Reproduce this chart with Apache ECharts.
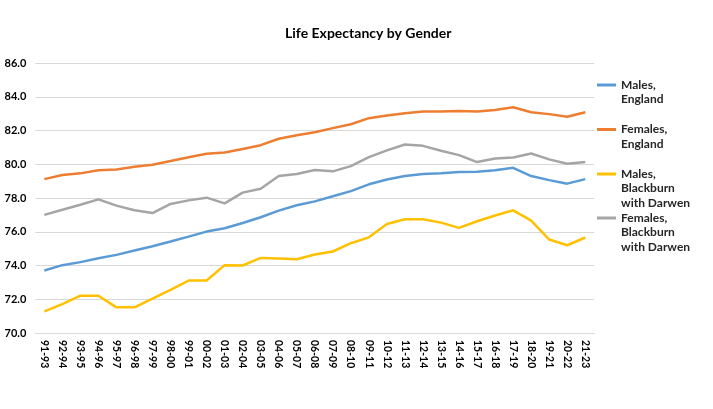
<!DOCTYPE html>
<html>
<head>
<meta charset="utf-8">
<script src="https://cdn.jsdelivr.net/npm/echarts@6/dist/echarts.min.js"></script>
<style>
  html, body { margin: 0; padding: 0; background: #fff; }
  #chart { width: 713px; height: 409px; }
</style>
</head>
<body>
<div id="chart"></div>
<script>
const categories = ['91-93', '92-94', '93-95', '94-96', '95-97', '96-98', '97-99', '98-00', '99-01', '00-02',
  '01-03', '02-04', '03-05', '04-06', '05-07', '06-08', '07-09', '08-10', '09-11', '10-12',
  '11-13', '12-14', '13-15', '14-16', '15-17', '16-18', '17-19', '18-20', '19-21', '20-22', '21-23']

const malesEngland = [73.70, 74.02, 74.20, 74.43, 74.63, 74.89, 75.14, 75.42, 75.71, 76.01,
  76.21, 76.52, 76.86, 77.25, 77.57, 77.80, 78.10, 78.41, 78.81, 79.10,
  79.30, 79.42, 79.46, 79.54, 79.56, 79.64, 79.79, 79.30, 79.06, 78.85, 79.12]
const femalesEngland = [79.12, 79.36, 79.46, 79.64, 79.69, 79.85, 79.97, 80.19, 80.42, 80.62,
  80.70, 80.90, 81.13, 81.51, 81.72, 81.90, 82.14, 82.37, 82.73, 82.89,
  83.02, 83.12, 83.12, 83.16, 83.12, 83.22, 83.38, 83.08, 82.97, 82.81, 83.08]
const malesBlackburn = [71.28, 71.71, 72.21, 72.21, 71.52, 71.52, 72.03, 72.56, 73.11, 73.11,
  74.02, 74.00, 74.45, 74.41, 74.37, 74.65, 74.83, 75.32, 75.67, 76.46,
  76.74, 76.74, 76.54, 76.23, 76.62, 76.96, 77.27, 76.66, 75.54, 75.20, 75.66]
const femalesBlackburn = [77.00, 77.30, 77.60, 77.92, 77.55, 77.27, 77.11, 77.65, 77.86, 78.02,
  77.68, 78.32, 78.55, 79.30, 79.42, 79.66, 79.58, 79.89, 80.42, 80.82,
  81.17, 81.09, 80.80, 80.54, 80.13, 80.34, 80.40, 80.64, 80.29, 80.03, 80.13]

const seriesNames = ['Males,\nEngland', 'Females,\nEngland', 'Males,\nBlackburn\nwith Darwen', 'Females,\nBlackburn\nwith Darwen']
const seriesData = [malesEngland, femalesEngland, malesBlackburn, femalesBlackburn]
const colors = ['#5B9BD5', '#ED7D31', '#FFC000', '#A5A5A5']

const font = 'Lato, "Open Sans", sans-serif'
const lineH = 14.5
// first-line centre of each legend entry
const legendCentres = [85, 129.5, 174, 218]

let chart = echarts.init(document.getElementById('chart'))

// one legend per entry so the line sits next to the first text line (like Excel)
const legends = seriesNames.map((name, i) => {
  let lines = name.split('\n').length
  let h = lines * lineH
  let mid = lineH / 2
  let icon = 'path://M0,0h0.01v0.01h-0.01Z M0,' + (mid - 1.5) + 'H19V' + (mid + 1.5) + 'H0Z M0,' + (h - 0.01) + 'h0.01v0.01h-0.01Z'
  return {
    left: 597,
    top: legendCentres[i] - mid,
    padding: 0,
    itemWidth: 19,
    itemHeight: h,
    selectedMode: false,
    data: [{ name: name, icon: icon }],
    itemStyle: { borderWidth: 0 },
    lineStyle: { width: 0 },
    textStyle: {
      fontFamily: font,
      fontSize: 12,
      fontWeight: 'bold',
      color: '#262626',
      lineHeight: lineH,
    },
  }
})

let option = {
  color: colors,
  animation: false,
  title: {
    text: 'Life Expectancy by Gender',
    left: 285,
    top: 26,
    padding: 0,
    textStyle: {
      fontFamily: font,
      fontSize: 14,
      fontWeight: 'bold',
      color: '#000',
    },
  },
  legend: legends,
  grid: {
    left: 35.3,
    right: 118.7,
    top: 63,
    bottom: 76,
  },
  xAxis: {
    type: 'category',
    data: categories,
    boundaryGap: true,
    axisTick: { show: false },
    axisLine: {
      lineStyle: { color: '#D9D9D9', width: 1 },
    },
    axisLabel: {
      interval: 0,
      rotate: -90,
      margin: 7,
      fontFamily: font,
      fontSize: 10.5,
      fontWeight: 'bold',
      color: '#000',
    },
  },
  yAxis: {
    type: 'value',
    min: 70,
    max: 86,
    interval: 2,
    axisLine: { show: false },
    axisTick: { show: false },
    axisLabel: {
      margin: 9,
      fontFamily: font,
      fontSize: 11,
      fontWeight: 'bold',
      color: '#000',
      formatter: (v) => v.toFixed(1),
    },
    splitLine: {
      show: true,
      lineStyle: { color: '#D9D9D9', width: 1 },
    },
  },
  series: seriesNames.map((name, i) => ({
    name: name,
    type: 'line',
    symbol: 'none',
    data: seriesData[i],
    lineStyle: { width: 2.5, color: colors[i] },
    itemStyle: { color: colors[i] },
  })),
}

chart.setOption(option)
</script>
</body>
</html>
